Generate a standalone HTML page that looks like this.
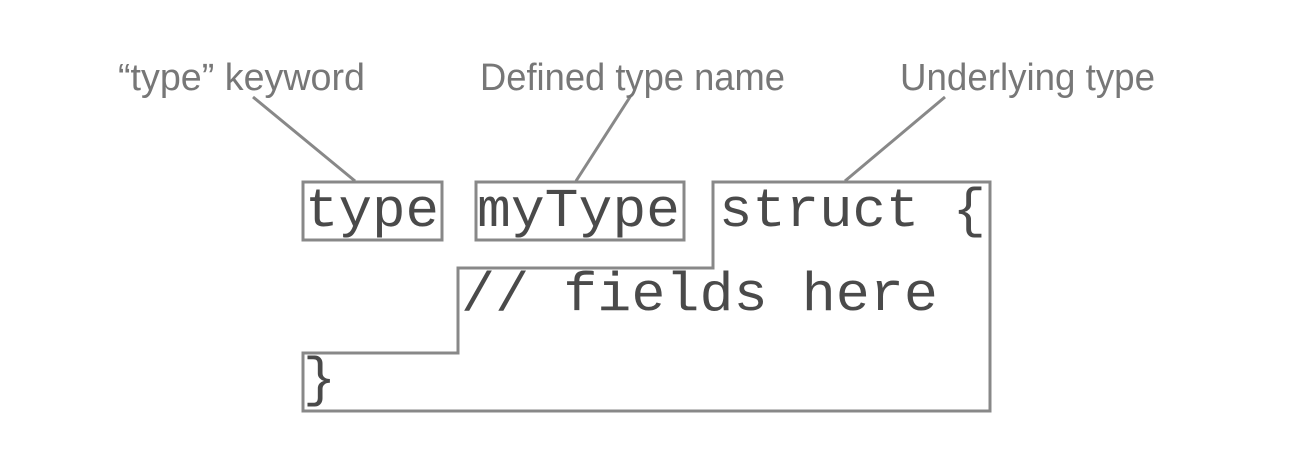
<!DOCTYPE html>
<html><head><style>
html,body{margin:0;padding:0;background:#fff;width:1296px;height:464px;overflow:hidden}
svg{display:block}
.code{font-family:"Liberation Mono",monospace;font-size:55px;fill:#4a4a4a}
.lab{font-family:"Liberation Sans",sans-serif;font-size:38px;fill:#777}
</style></head><body>
<svg width="1296" height="464" viewBox="0 0 1296 464">
<g stroke="#888" stroke-width="3" fill="none">
<rect x="303" y="182" width="139" height="58"/>
<rect x="476" y="182" width="208" height="58"/>
<polygon points="713,182 990,182 990,411 303,411 303,353 458,353 458,268 713,268"/>
<line x1="253" y1="97" x2="355" y2="181"/>
<line x1="630" y1="97" x2="576" y2="181"/>
<line x1="945" y1="97" x2="845" y2="181"/>
</g>
<text class="code" x="305" y="226" textLength="134" lengthAdjust="spacingAndGlyphs">type</text>
<text class="code" x="477" y="226" textLength="203" lengthAdjust="spacingAndGlyphs">myType</text>
<text class="code" x="719" y="226" textLength="267" lengthAdjust="spacingAndGlyphs">struct {</text>
<text class="code" x="461" y="310" textLength="477" lengthAdjust="spacingAndGlyphs">// fields here</text>
<text class="code" x="303" y="395">}</text>
<text class="lab" x="118" y="90" textLength="247" lengthAdjust="spacingAndGlyphs">“type” keyword</text>
<text class="lab" x="480" y="90" textLength="305" lengthAdjust="spacingAndGlyphs">Defined type name</text>
<text class="lab" x="900" y="90" textLength="255" lengthAdjust="spacingAndGlyphs">Underlying type</text>
</svg>
</body></html>
